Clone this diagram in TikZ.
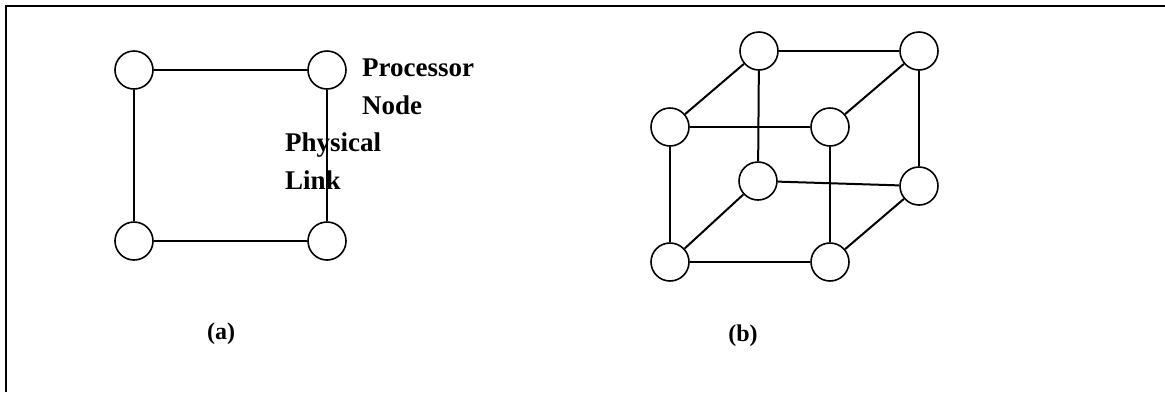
\documentclass[tikz,border=0pt]{standalone}
\usepackage{fontspec}
\setmainfont{Liberation Serif}
\usetikzlibrary{positioning}

\begin{document}
\begin{tikzpicture}[
        x=1pt, y=-1pt,
        every node/.style={font=\fontsize{27}{32}\selectfont\bfseries},
        proc/.style={draw=black, circle, line width=1.6pt, minimum size=38pt, inner sep=0pt, fill=white},
        link/.style={line width=2pt, draw=black},
        lbl/.style={anchor=base west, inner sep=0pt},
        caption/.style={font=\fontsize{24}{28}\selectfont\bfseries},
        frame/.style={line width=2pt, draw=black}
    ]
        \useasboundingbox (0,0) rectangle (1165,392);
        \draw[frame] (6,392) -- (6,6) -- (1165,6);

        % (a) mesh of four nodes
        \node[proc] (a1) at (134,70) {};
        \node[proc] (a2) at (327,70) {};
        \node[proc] (a3) at (134,241) {};
        \node[proc] (a4) at (327,241) {};
        \draw[link] (a1) -- (a2);
        \draw[link] (a1) -- (a3);
        \draw[link] (a3) -- (a4);
        \draw[link, line width=1.3pt] (a2) -- (a4);
        \node[lbl] (proctext) at (362,76) {Processor};
        \node[lbl] (nodetext) at (362,114) {Node};
        \node[lbl] (phystext) at (285,151) {Physical};
        \node[lbl] (linktext) at (285,189) {Link};
        \node[caption] (capa) at (221,334) {(a)};

        % (b) cube
        \node[proc] (btl) at (759,51) {};
        \node[proc] (btr) at (919,51) {};
        \node[proc] (bbl) at (758,181) {};
        \node[proc] (bbr) at (919,186) {};
        \node[proc] (ftl) at (670,127) {};
        \node[proc] (ftr) at (830,127) {};
        \node[proc] (fbl) at (670,262) {};
        \node[proc] (fbr) at (830,262) {};
        \draw[link] (btl) -- (btr);
        \draw[link] (btl) -- (bbl);
        \draw[link] (btr) -- (bbr);
        \draw[link] (bbl) -- (bbr);
        \draw[link] (ftl) -- (ftr);
        \draw[link] (ftl) -- (fbl);
        \draw[link] (ftr) -- (fbr);
        \draw[link] (fbl) -- (fbr);
        \draw[link] (ftl) -- (btl);
        \draw[link] (ftr) -- (btr);
        \draw[link] (fbl) -- (bbl);
        \draw[link] (fbr) -- (bbr);
        \node[caption] (capb) at (743,336) {(b)};
    \end{tikzpicture}
\end{document}
